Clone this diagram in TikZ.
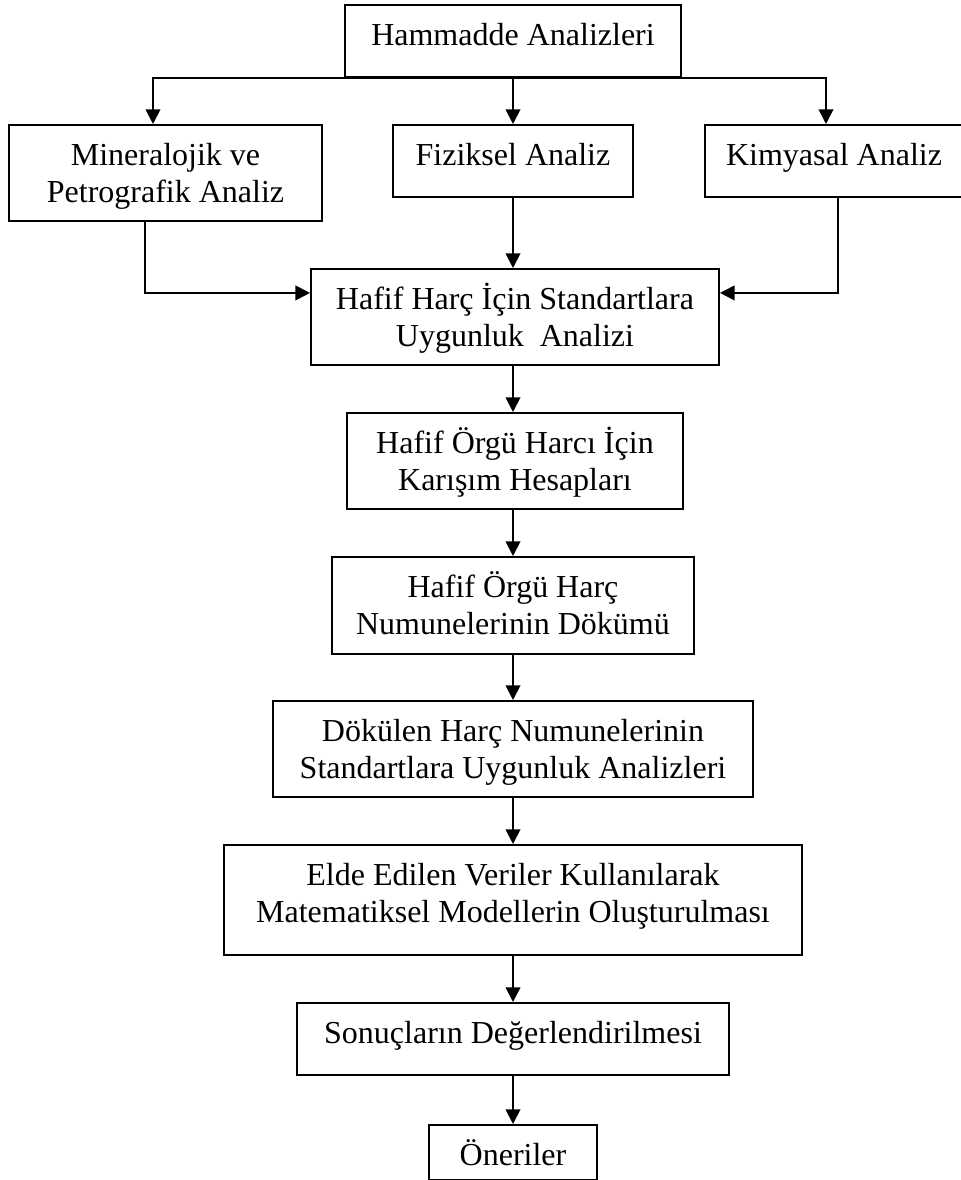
\documentclass[tikz,border=0pt]{standalone}
\usepackage{fontspec}
\setmainfont{Liberation Serif}
\usetikzlibrary{arrows.meta}
\newcommand\myTop{\rule{0pt}{30.75pt}}
\newcommand\myBot[1]{\rule[-#1]{0pt}{#1}}
\begin{document}
\begin{tikzpicture}[x=0.75pt,y=-0.75pt,
  box/.style={draw, line width=1.4pt, align=center, inner sep=0pt, anchor=north,
    font=\fontsize{24}{27.75}\selectfont},
  arr/.style={line width=1.4pt, -{Triangle[length=11pt,width=11pt]}}]
\useasboundingbox (0,0) rectangle (960,1180);
\fill[white] (0,0) rectangle (960,1180);
\node[box, minimum width=252pt] (ham) at (513,4) {\myTop Hammadde Analizleri\myBot{23.25pt}};
\node[box, minimum width=234.75pt] (min) at (165.5,124) {\myTop Mineralojik ve\\Petrografik Analiz\myBot{13.5pt}};
\node[box, minimum width=180pt] (fiz) at (513,124) {\myTop Fiziksel Analiz\myBot{23.25pt}};
\node[box, minimum width=193.5pt] (kim) at (834,124) {\myTop Kimyasal Analiz\myBot{23.25pt}};
\node[box, minimum width=306pt] (hh) at (515,268) {\myTop Hafif Harç İçin Standartlara\\Uygunluk\ \ Analizi\myBot{13.5pt}};
\node[box, minimum width=252pt] (hok) at (515,412) {\myTop Hafif Örgü Harcı İçin\\Karışım Hesapları\myBot{13.5pt}};
\node[box, minimum width=271.5pt] (hon) at (513,556) {\myTop Hafif Örgü Harç\\Numunelerinin Dökümü\myBot{14.25pt}};
\node[box, minimum width=360pt] (dok) at (513,700) {\myTop Dökülen Harç Numunelerinin\\Standartlara Uygunluk Analizleri\myBot{13.5pt}};
\node[box, minimum width=433.5pt] (eld) at (513,844) {\myTop Elde Edilen Veriler Kullanılarak\\Matematiksel Modellerin Oluşturulması\myBot{24pt}};
\node[box, minimum width=324pt] (son) at (513,1002) {\myTop Sonuçların Değerlendirilmesi\myBot{23.25pt}};
\node[box, minimum width=126pt] (one) at (513,1124) {\myTop Öneriler\myBot{10.5pt}};
% top distribution
\draw[arr] (ham.south) -| ([xshift=-9.375pt]min.north);
\draw[arr] (ham.south) -| ([xshift=-6pt]kim.north);
\draw[arr] (ham.south) -- (ham.south |- fiz.north);
% into hafif harç
\draw[arr] (fiz.south) -- (fiz.south |- hh.north);
\draw[arr] ([xshift=-15.375pt]min.south) |- ([yshift=18pt]hh.west);
\draw[arr] ([xshift=3pt]kim.south) |- ([yshift=18pt]hh.east);
% main chain
\draw[arr] ([xshift=-1.5pt]hh.south) -- ([xshift=-1.5pt]hh.south |- hok.north);
\draw[arr] ([xshift=-1.5pt]hok.south) -- ([xshift=-1.5pt]hok.south |- hon.north);
\draw[arr] (hon.south) -- (hon.south |- dok.north);
\draw[arr] (dok.south) -- (dok.south |- eld.north);
\draw[arr] (eld.south) -- (eld.south |- son.north);
\draw[arr] (son.south) -- (son.south |- one.north);
\end{tikzpicture}
\end{document}
